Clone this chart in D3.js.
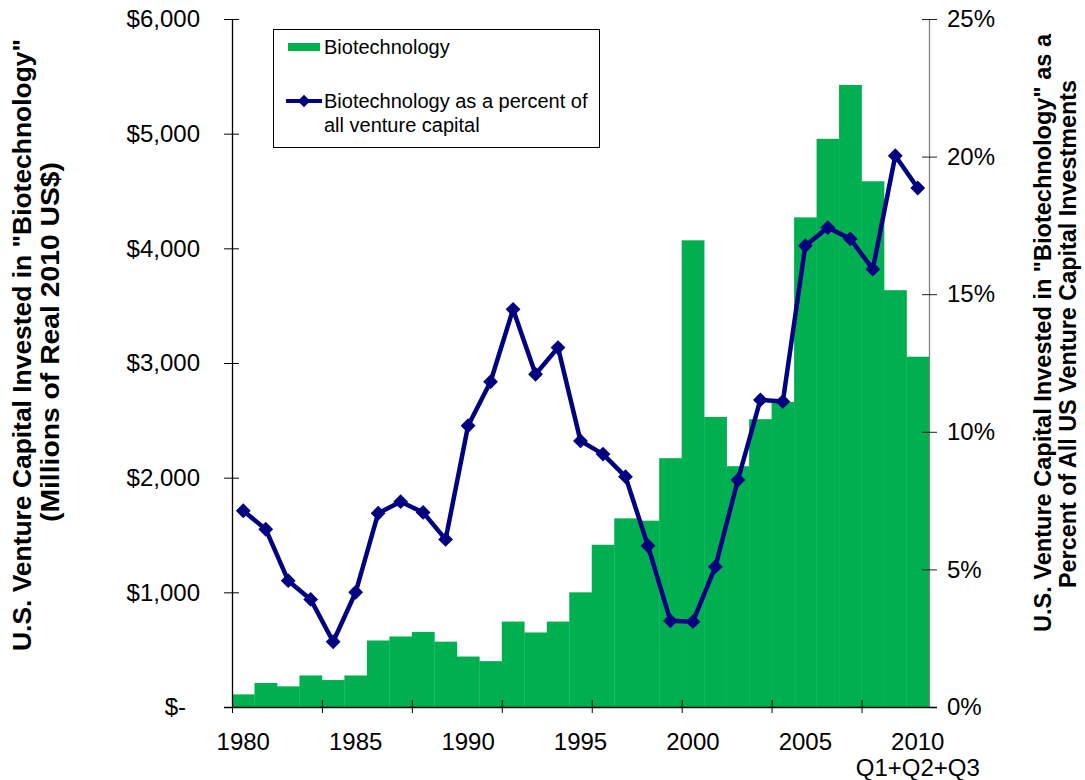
<!DOCTYPE html>
<html>
<head>
<meta charset="utf-8">
<script src="https://cdn.jsdelivr.net/npm/d3@7/dist/d3.min.js"></script>
<style>
    body { margin: 0; background: #fff; }
    svg text { font-family: "Liberation Sans", Arial, sans-serif; fill: #000; }
    .title { font-family: "Liberation Sans Narrow", "Arial Narrow", "Liberation Sans", Arial, sans-serif; font-weight: bold; }
</style>
</head>
<body>
<div id="chart"></div>
<script>
// years on the category axis
const years = d3.range(1980, 2011);

// venture capital invested in biotechnology, millions of real 2010 US$
const biotech = [
    110, 210, 180, 275, 235, 275, 580, 615, 655, 570,
    440, 400, 745, 650, 745, 1000, 1415, 1645, 1625, 2170,
    4070, 2530, 2100, 2510, 2660, 4270, 4955, 5425, 4585, 3635,
    3055
];

// biotechnology as a percent of all venture capital
const biotechPct = [
    7.13, 6.46, 4.59, 3.91, 2.37, 4.17, 7.04, 7.46, 7.07, 6.09,
    10.22, 11.82, 14.45, 12.09, 13.06, 9.67, 9.19, 8.37, 5.86, 3.13,
    3.10, 5.10, 8.25, 11.16, 11.10, 16.76, 17.42, 17.01, 15.91, 20.03,
    18.86
];

const leftTicks = [0, 1000, 2000, 3000, 4000, 5000, 6000];
const rightTicks = [0, 5, 10, 15, 20, 25];
const labelYears = [1980, 1985, 1990, 1995, 2000, 2005, 2010];

const green = '#00b050';
const navy = '#000080';

const width = 1085, height = 780;
const plotLeft = 232, plotRight = 929, plotTop = 19, plotBottom = 707;

const svg = d3.select('#chart')
    .append('svg')
    .attr('width', width)
    .attr('height', height);

const x = d3.scaleBand()
    .domain(years)
    .range([plotLeft, plotRight])
    .padding(0);

// used only for the tick marks, which sit on every 4th bar edge
const xEdge = d3.scaleLinear()
    .domain([0, years.length])
    .range([plotLeft, plotRight]);

const yLeft = d3.scaleLinear()
    .domain([0, 6000])
    .range([plotBottom, plotTop]);

const yRight = d3.scaleLinear()
    .domain([0, 25])
    .range([plotBottom, plotTop]);

// bars
svg.append('g')
    .selectAll('rect')
    .data(years)
    .enter()
    .append('rect')
    .attr('x', d => x(d))
    .attr('y', (d, i) => yLeft(biotech[i]))
    .attr('width', x.bandwidth() + 0.3)
    .attr('height', (d, i) => yLeft(0) - yLeft(biotech[i]))
    .attr('fill', green);

// left axis
const gLeft = svg.append('g')
    .attr('transform', `translate(${plotLeft},0)`)
    .call(d3.axisLeft(yLeft)
        .tickValues(leftTicks)
        .tickSizeOuter(0)
        .tickSizeInner(0)
        .tickPadding(32)
        .tickFormat(d => d === 0 ? '$-' : '$' + d3.format(',')(d)));
gLeft.select('.domain').attr('stroke', '#000').attr('stroke-width', 1.3);
gLeft.selectAll('.tick line').attr('x1', -8).attr('x2', 7).attr('stroke', '#000');
gLeft.selectAll('.tick text')
    .attr('font-size', 24)
    .attr('font-family', null)
    .attr('dx', d => d === 0 ? -14 : 0);

// right axis
const gRight = svg.append('g')
    .attr('transform', `translate(${plotRight},0)`)
    .call(d3.axisRight(yRight)
        .tickValues(rightTicks)
        .tickSizeOuter(0)
        .tickSizeInner(0)
        .tickPadding(18)
        .tickFormat(d => d + '%'));
gRight.select('.domain').attr('stroke', '#808080').attr('stroke-width', 1.3);
gRight.selectAll('.tick line').attr('x1', -7).attr('x2', 8).attr('stroke', '#222');
gRight.selectAll('.tick text')
    .attr('font-size', 24)
    .attr('font-family', null);

// bottom axis: tick marks
const gTicks = svg.append('g')
    .attr('transform', `translate(0,${plotBottom})`)
    .call(d3.axisBottom(xEdge)
        .tickValues(d3.range(0, 29, 4))
        .tickSizeOuter(0)
        .tickSizeInner(0)
        .tickFormat(''));
gTicks.select('.domain').attr('stroke', '#000').attr('stroke-width', 1.3)
    .attr('d', `M${plotLeft - 8},0.5H${plotRight + 8}`);
gTicks.selectAll('.tick line').attr('y1', -7).attr('y2', 6).attr('stroke', '#000');

// bottom axis: labels centred on the bars
const gLabels = svg.append('g')
    .attr('transform', `translate(0,${plotBottom})`)
    .call(d3.axisBottom(x)
        .tickValues(labelYears)
        .tickSize(0)
        .tickPadding(26));
gLabels.select('.domain').remove();
gLabels.selectAll('.tick text')
    .attr('font-size', 24)
    .attr('font-family', null)
    .filter(d => d === 2010)
    .append('tspan')
    .attr('x', 0)
    .attr('dy', '1.1em')
    .text('Q1+Q2+Q3');

// percent line with diamond markers
const line = d3.line()
    .x(d => x(d) + x.bandwidth() / 2)
    .y((d, i) => yRight(biotechPct[i]));

svg.append('path')
    .datum(years)
    .attr('d', line)
    .attr('fill', 'none')
    .attr('stroke', navy)
    .attr('stroke-width', 4.5)
    .attr('stroke-linejoin', 'round');

const diamond = d3.symbol().type(d3.symbolSquare).size(110);
svg.append('g')
    .selectAll('path')
    .data(years)
    .enter()
    .append('path')
    .attr('d', diamond)
    .attr('transform', (d, i) => `translate(${x(d) + x.bandwidth() / 2},${yRight(biotechPct[i])}) rotate(45)`)
    .attr('fill', navy);

// legend
const legend = svg.append('g');
legend.append('rect')
    .attr('x', 273.5).attr('y', 29.5)
    .attr('width', 326).attr('height', 118)
    .attr('fill', '#fff')
    .attr('stroke', '#000');
legend.append('rect')
    .attr('x', 288).attr('y', 43)
    .attr('width', 32).attr('height', 8)
    .attr('fill', green);
legend.append('text')
    .attr('x', 324).attr('y', 54)
    .attr('font-size', 20)
    .text('Biotechnology');
legend.append('line')
    .attr('x1', 286).attr('x2', 322)
    .attr('y1', 101).attr('y2', 101)
    .attr('stroke', navy)
    .attr('stroke-width', 4);
legend.append('path')
    .attr('d', d3.symbol().type(d3.symbolSquare).size(80))
    .attr('transform', 'translate(304,101) rotate(45)')
    .attr('fill', navy);
legend.append('text')
    .attr('x', 324).attr('y', 108)
    .attr('font-size', 20)
    .text('Biotechnology as a percent of');
legend.append('text')
    .attr('x', 324).attr('y', 132)
    .attr('font-size', 20)
    .text('all venture capital');

// axis titles
function title(cx, cy, size, len, str) {
    svg.append('text')
        .attr('class', 'title')
        .attr('transform', `translate(${cx},${cy}) rotate(-90)`)
        .attr('text-anchor', 'middle')
        .attr('dy', '0.36em')
        .attr('font-size', size)
        .attr('textLength', len)
        .attr('lengthAdjust', 'spacingAndGlyphs')
        .text(str);
}
title(22, 345, 26, 612, 'U.S. Venture Capital Invested in "Biotechnology"');
title(50, 342, 26, 360, '(Millions of Real 2010 US$)');
title(1043, 333, 23, 598, 'U.S. Venture Capital Invested in "Biotechnology" as a');
title(1068, 334, 23, 508, 'Percent of All US Venture Capital Investments');
</script>
</body>
</html>
